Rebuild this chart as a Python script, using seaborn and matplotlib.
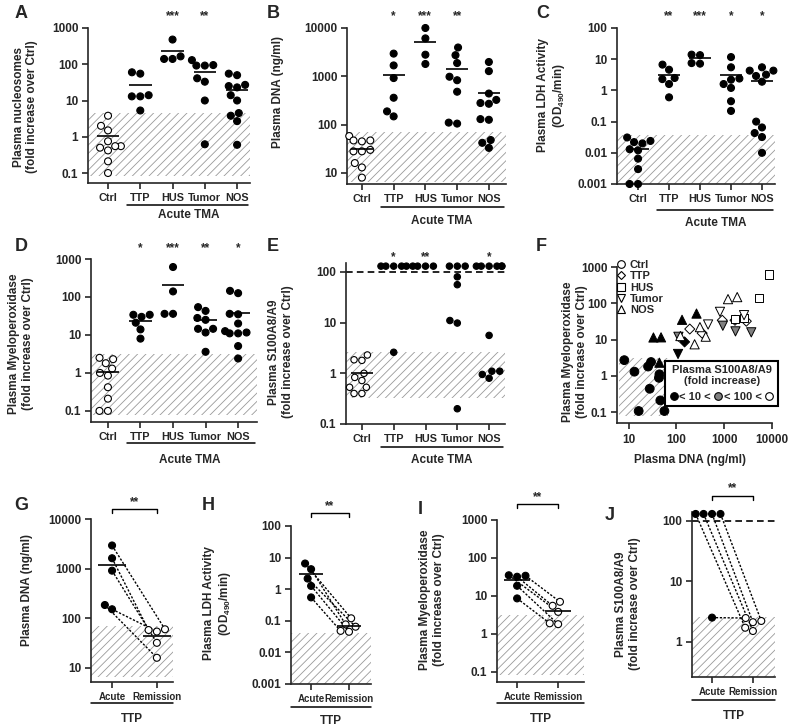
import warnings
import numpy as np
import pandas as pd
import matplotlib
matplotlib.use("Agg")
import matplotlib.pyplot as plt
import matplotlib.transforms as mtransforms
from matplotlib.collections import PathCollection
from matplotlib.lines import Line2D
from matplotlib.ticker import NullLocator
import seaborn as sns

warnings.filterwarnings("ignore")

# ---------------- data ----------------
groups = ["Ctrl", "TTP", "HUS", "Tumor", "NOS"]
phases = ["Acute", "Remission"]

nucleosomes = {
    "Ctrl": [3.8, 2.0, 1.5, 0.75, 0.55, 0.5, 0.55, 0.42, 0.21, 0.1],
    "TTP": [13, 13, 14, 55, 60, 5.3],
    "HUS": [480, 165, 140, 140],
    "Tumor": [130, 92, 92, 95, 41, 33, 10, 0.62],
    "NOS": [55, 50, 27, 25, 23, 14, 10, 4.5, 3.8, 2.7, 0.6],
}
dna = {
    "Ctrl": [58, 47, 47, 45, 30, 28, 28, 16, 13, 8],
    "TTP": [2950, 1680, 920, 360, 188, 148],
    "HUS": [10000, 6100, 2800, 1800],
    "Tumor": [3950, 2740, 1880, 980, 830, 480, 110, 105],
    "NOS": [1980, 1280, 440, 325, 280, 270, 130, 126, 48, 42, 33],
}
ldh = {
    "Ctrl": [0.031, 0.024, 0.022, 0.02, 0.013, 0.012, 0.0065, 0.003, 0.001, 0.001],
    "TTP": [6.7, 4.6, 2.5, 2.3, 1.6, 0.6],
    "HUS": [14, 13.5, 7.5, 7.2],
    "Tumor": [11.7, 5.5, 2.4, 2.2, 1.6, 1.2, 0.45, 0.22],
    "NOS": [5.5, 4.3, 4.3, 3.2, 2.9, 1.9, 0.1, 0.065, 0.043, 0.032, 0.01],
}
mpo = {
    "Ctrl": [2.5, 2.3, 1.8, 1.3, 1.0, 0.85, 0.42, 0.21, 0.1, 0.1],
    "TTP": [30, 34, 34, 21, 14, 8],
    "HUS": [615, 140, 36, 36],
    "Tumor": [54, 43, 28, 25, 14.5, 14.5, 11.6, 3.6],
    "NOS": [145, 126, 36, 35, 20, 12.6, 11.6, 11, 11, 5.1, 2.4],
}
s100 = {
    "Ctrl": [2.3, 1.85, 1.8, 1.0, 0.83, 0.72, 0.53, 0.53, 0.4, 0.4],
    "TTP": [130, 130, 130, 130, 130, 2.6],
    "HUS": [130, 130, 130, 130],
    "Tumor": [130, 130, 130, 80, 56, 11, 9.8, 0.2],
    "NOS": [130, 130, 130, 130, 130, 130, 5.6, 1.1, 1.1, 0.95, 0.8],
}

# panel F: DNA vs MPO, fill = S100A8/A9 class
f_group = ["Ctrl"] * 10 + ["TTP"] * 6 + ["HUS"] * 4 + ["Tumor"] * 8 + ["NOS"] * 11
f_dna = [8.1, 13.2, 16.2, 25.5, 29.4, 27.6, 44, 43, 46, 56,
         148, 190, 345, 910, 1680, 2900,
         8700, 5400, 1660, 2600,
         108, 110, 935, 1720, 3680, 815, 2600, 460,
         33, 47.6, 131, 263, 44, 1200, 1870, 310, 410, 240, 121]
f_mpo = [2.7, 1.3, 0.107, 1.8, 2.4, 0.44, 1.1, 0.88, 0.21, 0.107,
         8.6, 19.5, 15, 34, 34, 32,
         620, 140, 37, 40,
         4.0, 11.9, 24, 16.8, 15.8, 58, 47, 26,
         11.4, 11.5, 35, 52, 2.3, 130, 148, 22, 12, 7.4, 12.5]
f_s100 = (["low"] * 10
          + ["low", "high", "high", "high", "high", "high"]
          + ["high"] * 4
          + ["low", "mid", "mid", "mid", "mid", "high", "high", "high"]
          + ["low"] * 5 + ["high"] * 6)

# panels G-J: paired TTP acute / remission
g_acute, g_remission = [2930, 1620, 910, 185, 152], [60, 58, 32, 16, 54]
h_acute, h_remission = [2.17, 4.3, 6.5, 1.27, 0.55], [0.065, 0.077, 0.12, 0.045, 0.048]
i_acute, i_remission = [32, 34, 35, 18.5, 8.6], [5.5, 7.0, 3.8, 1.8, 1.9]
j_acute, j_remission = [130, 130, 130, 130, 2.5], [2.1, 2.2, 1.5, 1.7, 2.46]

# hatched normal ranges
nuc_range, dna_range, ldh_range = (0.085, 4.5), (6.6, 70), (0.001, 0.038)
mpo_range, s100_range = (0.08, 3.1), (0.33, 2.6)
f_range_x, f_range_y = (6.2, 68), (0.08, 3.1)

ticks_nuc = [0.1, 1, 10, 100, 1000]
ticks_dna = [10, 100, 1000, 10000]
ticks_ldh = [0.001, 0.01, 0.1, 1, 10, 100]
ticks_s100 = [0.1, 1, 10, 100]
ticks_s100_j = [1, 10, 100]

# ---------------- style ----------------
sns.set_style("ticks")
plt.rcParams["font.family"] = ["Liberation Sans", "DejaVu Sans"]
plt.rcParams["font.weight"] = "bold"
plt.rcParams["axes.labelweight"] = "bold"
plt.rcParams["mathtext.fontset"] = "custom"
plt.rcParams["mathtext.rm"] = "Liberation Sans:bold"
plt.rcParams["mathtext.default"] = "rm"
plt.rcParams["hatch.linewidth"] = 0.6
plt.rcParams["hatch.color"] = "#9a9a9a"

GRAY = "#9a9a9a"
DOT = 5.0
W, H = 799, 726
fig = plt.figure(figsize=(W / 100, H / 100), dpi=100)


def add_ax(r):
    return fig.add_axes([r[0] / W, 1 - r[3] / H, (r[2] - r[0]) / W, (r[3] - r[1]) / H])


def frac(r, ypx):
    return (r[3] - ypx) / (r[3] - r[1])


def finish_axis(ax, yticks, ylim, xlim):
    ax.set_yscale("log")
    ax.set_ylim(ylim)
    ax.set_xlim(xlim)
    ax.set_yticks(yticks, [f"{t:g}" for t in yticks])
    ax.yaxis.set_minor_locator(NullLocator())
    ax.spines[["top", "right"]].set_visible(False)
    ax.spines[["left", "bottom"]].set_linewidth(1.2)
    ax.tick_params(direction="out", length=4, width=1.2, labelsize=8.5, pad=3)
    ax.set_xlabel("")


def put_ylabel(ax, r, text, xy):
    ax.set_ylabel(text, fontsize=8.5, va="center", ha="center", fontweight="bold")
    ax.yaxis.set_label_coords((xy[0] - r[0]) / (r[2] - r[0]), frac(r, xy[1]))


def letter(s, xy):
    fig.text(xy[0] / W, 1 - xy[1] / H, s, fontsize=13, weight="bold", ha="center", va="center")


def group_panel(r, data, yticks, ylim, xlim, ylabel, lab_xy, stars, star_y,
                line_y, text_y, hatch, ctrl_open=True, means="all", dashed=None,
                dot=DOT):
    ax = add_ax(r)
    df = pd.DataFrame([(g, v) for g in groups for v in data[g]], columns=["group", "value"])
    fills = {g: "black" for g in groups}
    if ctrl_open:
        fills["Ctrl"] = "white"
    ax.axhspan(*hatch, facecolor="white", edgecolor=GRAY, hatch="////", lw=0, zorder=0)
    sns.swarmplot(data=df, x="group", y="value", hue="group", order=groups,
                  hue_order=groups, palette=fills, size=dot, edgecolor="black",
                  linewidth=0.8, legend=False, log_scale=True, ax=ax,
                  zorder=3, clip_on=False)
    finish_axis(ax, yticks, ylim, xlim)
    ax.tick_params(axis="x", labelsize=7.8)
    if dashed:
        ax.axhline(dashed, color="black", lw=1.2, ls=(0, (4, 2.5)), zorder=2)
    shown = groups if means == "all" else means
    for i, g in enumerate(groups):
        if g in shown:
            ax.hlines(np.mean(data[g]), i - 0.35, i + 0.35, color="black", lw=1.2, zorder=4)
    trans = mtransforms.blended_transform_factory(ax.transData, ax.transAxes)
    for g, s in stars.items():
        ax.text(groups.index(g), frac(r, star_y), s, transform=trans, ha="center",
                va="center", fontsize=8.5)
    ly = frac(r, line_y)
    ax.plot([0.6, xlim[1] - 0.05], [ly, ly], transform=trans, color="black",
            lw=1.1, clip_on=False)
    ax.text(2.5, frac(r, text_y), "Acute TMA", transform=trans, ha="center",
            va="center", fontsize=8.5)
    put_ylabel(ax, r, ylabel, lab_xy)
    return ax


paired = []


def paired_panel(r, acute, remission, yticks, ylim, xlim, ylabel, lab_xy,
                 bracket_y, star_y, line_y, text_y, hatch, means=True, dashed=None):
    ax = add_ax(r)
    df = pd.DataFrame({"phase": ["Acute"] * len(acute) + ["Remission"] * len(remission),
                       "value": acute + remission})
    ax.axhspan(*hatch, facecolor="white", edgecolor=GRAY, hatch="////", lw=0, zorder=0)
    sns.swarmplot(data=df, x="phase", y="value", hue="phase", order=phases,
                  hue_order=phases, palette={"Acute": "black", "Remission": "white"},
                  size=DOT, edgecolor="black", linewidth=0.8, legend=False,
                  log_scale=True, ax=ax, zorder=3, clip_on=False)
    finish_axis(ax, yticks, ylim, xlim)
    ax.tick_params(axis="x", labelsize=7)
    if dashed:
        ax.axhline(dashed, color="black", lw=1.2, ls=(0, (4, 2.5)), zorder=2)
    if means:
        for k, vals in enumerate([acute, remission]):
            ax.hlines(np.mean(vals), k - 0.32, k + 0.32, color="black", lw=1.2, zorder=4)
    trans = mtransforms.blended_transform_factory(ax.transData, ax.transAxes)
    by, dy = frac(r, bracket_y), 4 / (r[3] - r[1])
    ax.plot([0, 0, 1, 1], [by - dy, by, by, by - dy], transform=trans,
            color="black", lw=1.0, clip_on=False)
    ax.text(0.5, frac(r, star_y), "**", transform=trans, ha="center", va="center", fontsize=8.5)
    ly = frac(r, line_y)
    ax.plot([0, 1], [ly, ly], transform=ax.transAxes, color="black", lw=1.1, clip_on=False)
    ax.text(0.5, frac(r, text_y), "TTP", transform=ax.transAxes, ha="center",
            va="center", fontsize=8.5)
    put_ylabel(ax, r, ylabel, lab_xy)
    paired.append((ax, acute, remission))
    return ax


lab_mpo = "Plasma Myeloperoxidase\n(fold increase over Ctrl)"
lab_s100 = "Plasma S100A8/A9\n(fold increase over Ctrl)"
lab_ldh = "Plasma LDH Activity\n(OD$_{490}$/min)"

# ---------------- top row ----------------
rA = (88, 28, 250, 183)
group_panel(rA, nucleosomes, ticks_nuc, (0.053, 1000), (-0.62, 4.4),
            "Plasma nucleosomes\n(fold increase over Ctrl)", (25.5, 107),
            {"HUS": "***", "Tumor": "**"}, 16, 205, 215, nuc_range)
letter("A", (21, 13))

rB = (347, 28, 506, 184)
group_panel(rB, dna, ticks_dna, (5.9, 10000), (-0.47, 4.54), "Plasma DNA (ng/ml)",
            (278, 92), {"TTP": "*", "HUS": "***", "Tumor": "**"}, 16, 207, 221, dna_range)
letter("B", (273, 13))

rC = (617, 28, 775, 184)
group_panel(rC, ldh, ticks_ldh, (0.001, 100), (-0.68, 4.42), lab_ldh, (552, 95),
            {"TTP": "**", "HUS": "***", "Tumor": "*", "NOS": "*"}, 16, 210, 223,
            ldh_range, ctrl_open=False)
letter("C", (543, 13))

# ---------------- middle row ----------------
rD = (91, 259, 257, 422)
group_panel(rD, mpo, ticks_nuc, (0.051, 1000), (-0.52, 4.58), lab_mpo, (21, 344),
            {"TTP": "*", "HUS": "***", "Tumor": "**", "NOS": "*"}, 248, 443, 460, mpo_range)
letter("D", (21, 247))

rE = (346, 263, 505, 424)
group_panel(rE, s100, ticks_s100, (0.1, 150), (-0.5, 4.5), lab_s100, (281, 352),
            {"TTP": "*", "HUS": "**", "NOS": "*"}, 257, 447, 460, s100_range,
            means=["Ctrl"], dashed=100, dot=4.6)
letter("E", (273, 247))

rF = (617, 267, 772, 423)
axF = add_ax(rF)
dfF = pd.DataFrame({"group": f_group, "dna": f_dna, "mpo": f_mpo, "s100": f_s100})
s100_colors = {"low": "black", "mid": "#808080", "high": "white"}
shape = {"Ctrl": ("o", 40), "TTP": ("D", 26), "HUS": ("s", 34), "Tumor": ("v", 44), "NOS": ("^", 44)}
axF.fill_between(f_range_x, f_range_y[0], f_range_y[1], facecolor="white",
                 edgecolor=GRAY, hatch="////", lw=0, zorder=0)
for g in groups:
    m, s = shape[g]
    sns.scatterplot(data=dfF[dfF["group"] == g], x="dna", y="mpo", hue="s100",
                    palette=s100_colors, marker=m, s=s, edgecolor="black",
                    linewidth=0.7, legend=False, ax=axF, zorder=3, clip_on=False)
axF.set_xscale("log")
finish_axis(axF, ticks_nuc, (0.05, 1000), (5.7, 10000))
axF.set_xticks(ticks_dna, [f"{t:g}" for t in ticks_dna])
axF.xaxis.set_minor_locator(NullLocator())
axF.tick_params(axis="x", pad=4)
put_ylabel(axF, rF, lab_mpo, (575, 352))
axF.set_xlabel("Plasma DNA (ng/ml)", fontsize=8.5, va="center", fontweight="bold")
axF.xaxis.set_label_coords((690 - rF[0]) / (rF[2] - rF[0]), frac(rF, 460))
shape_handles = [Line2D([], [], ls="none", marker=shape[g][0],
                        ms=4.3 if g == "TTP" else 5.5, mfc="white", mec="black",
                        mew=0.8) for g in groups]
leg1 = axF.legend(shape_handles, groups, loc="upper left", bbox_to_anchor=(-0.01, 1.045),
                  frameon=False, prop={"size": 8, "weight": "bold"}, handletextpad=0.3,
                  labelspacing=0.12, borderaxespad=0, borderpad=0, handlelength=1.0)
axF.add_artist(leg1)
fill_handles = [Line2D([], [], ls="none", marker="o", ms=5.5, mfc=c, mec="black", mew=0.8)
                for c in ("black", "#808080", "white")]
leg2 = axF.legend(fill_handles, ["< 10 <", "< 100 <", ""], ncol=3,
                  title="Plasma S100A8/A9\n(fold increase)", loc="lower right",
                  bbox_to_anchor=(1.04, 0.11), borderaxespad=0,
                  prop={"size": 8, "weight": "bold"}, title_fontsize=8,
                  handletextpad=0.1, columnspacing=0.25, handlelength=0.8,
                  borderpad=0.35, fancybox=False, edgecolor="black", framealpha=1)
leg2.get_frame().set_linewidth(1.5)
leg2.get_title().set_multialignment("center")
leg2.get_title().set_fontweight("bold")
letter("F", (541, 247))

# ---------------- bottom row ----------------
rG = (91, 519, 173, 682)
paired_panel(rG, g_acute, g_remission, ticks_dna, (5.2, 10000), (-0.47, 1.36),
             "Plasma DNA (ng/ml)", (27, 590), 509, 502, 703, 719, dna_range)
letter("G", (21, 506))

rH = (291, 526, 371, 684)
paired_panel(rH, h_acute, h_remission, ticks_ldh, (0.001, 100), (-0.53, 1.58),
             lab_ldh, (218, 603), 513, 506, 707, 721, (0.001, 0.042))
letter("H", (208, 506))

rI = (497, 520, 584, 682)
paired_panel(rI, i_acute, i_remission, ticks_nuc, (0.054, 1000), (-0.49, 1.63),
             lab_mpo, (432, 600), 504, 497, 703, 719, (0.085, 3.1))
letter("I", (420, 510))

rJ = (692, 512, 775, 677)
paired_panel(rJ, j_acute, j_remission, ticks_s100_j, (0.26, 140), (-0.49, 1.54),
             lab_s100, (628, 604), 496, 488, 700, 716, (0.26, 2.6),
             means=False, dashed=100)
letter("J", (610, 515))

# connect paired points once the swarms have been laid out
fig.canvas.draw()
for ax, acute, remission in paired:
    pts = np.vstack([c.get_offsets() for c in ax.collections
                     if isinstance(c, PathCollection) and len(c.get_offsets())])
    used = np.zeros(len(pts), bool)

    def locate(v, k):
        for n, (x, y) in enumerate(pts):
            if not used[n] and abs(x - k) < 0.5 and np.isclose(y, v, rtol=1e-6):
                used[n] = True
                return x, y
        return k, v

    for a, b in zip(acute, remission):
        xa, ya = locate(a, 0)
        xb, yb = locate(b, 1)
        ax.plot([xa, xb], [ya, yb], color="black", lw=1.0, ls=(0, (1.6, 1.2)), zorder=2)

fig.savefig("out.png", dpi=100)
